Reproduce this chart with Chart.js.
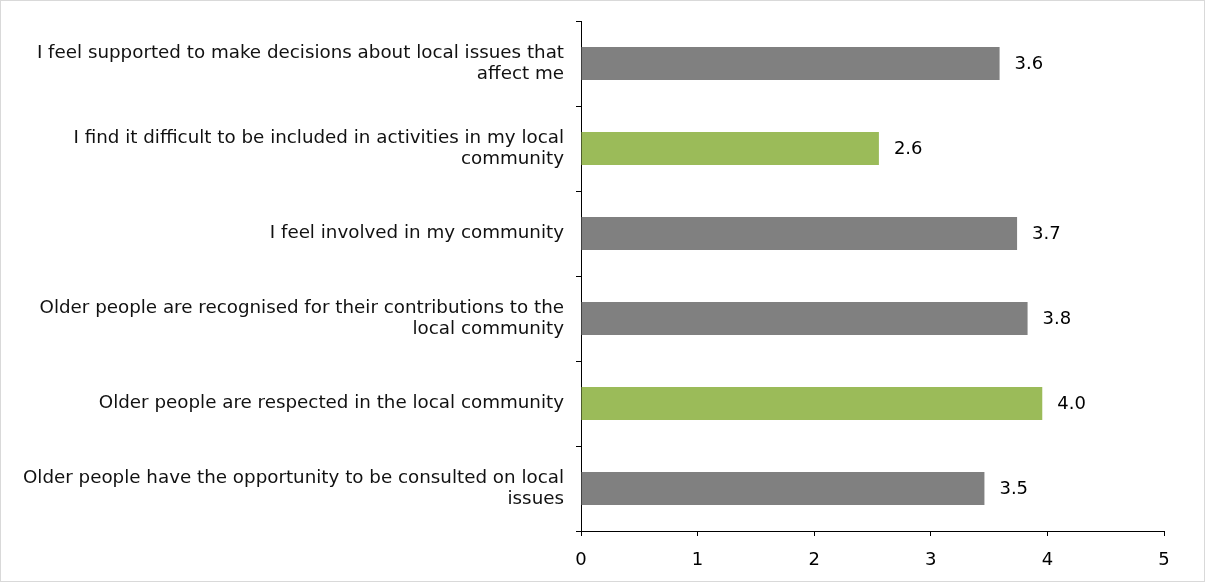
<!DOCTYPE html>
<html lang="en">
  <head>
    <meta charset="UTF-8" />
    <title>Community participation</title>
    <style>
      body {
        margin: 0;
        background: #ffffff;
      }
      #wrap {
        width: 1205px;
        height: 582px;
        box-sizing: border-box;
        border: 1px solid #d9d9d9;
        position: relative;
      }
    </style>
    <script src="https://cdn.jsdelivr.net/npm/chart.js"></script>
  </head>
  <body>
    <div id="wrap">
      <canvas id="chart" width="1203" height="580"></canvas>
    </div>
    <script>
      // data
      const categories = [
        ["I feel supported to make decisions about local issues that", "affect me"],
        ["I find it difficult to be included in activities in my local", "community"],
        "I feel involved in my community",
        ["Older people are recognised for their contributions to the", "local community"],
        "Older people are respected in the local community",
        ["Older people have the opportunity to be consulted on local", "issues"]
      ];
      const scores = [3.59, 2.555, 3.74, 3.83, 3.956, 3.46];
      const scoreLabels = ["3.6", "2.6", "3.7", "3.8", "4.0", "3.5"];
      const barColours = ["#808080", "#9bbb59", "#808080", "#808080", "#9bbb59", "#808080"];
      const xTicks = [0, 1, 2, 3, 4, 5];

      const fontFamily = "'DejaVu Sans', sans-serif";

      // value labels right of each bar
      const valueLabels = {
        id: "valueLabels",
        afterDatasetsDraw(chart) {
          const ctx = chart.ctx;
          const meta = chart.getDatasetMeta(0);
          ctx.save();
          ctx.font = "18px " + fontFamily;
          ctx.fillStyle = "#000000";
          ctx.textAlign = "left";
          ctx.textBaseline = "middle";
          meta.data.forEach((bar, i) => {
            ctx.fillText(scoreLabels[i], bar.x + 15, bar.y + 1);
          });
          ctx.restore();
        }
      };

      const ctx = document.getElementById("chart").getContext("2d");
      new Chart(ctx, {
        type: "bar",
        data: {
          labels: categories,
          datasets: [
            {
              data: scores,
              backgroundColor: barColours,
              borderWidth: 0,
              categoryPercentage: 1,
              barPercentage: 0.39
            }
          ]
        },
        options: {
          indexAxis: "y",
          responsive: false,
          animation: false,
          layout: {
            padding: { top: 20, right: 40, left: 0, bottom: 0 }
          },
          plugins: {
            legend: { display: false },
            tooltip: { enabled: false }
          },
          scales: {
            y: {
              grid: {
                offset: true,
                drawOnChartArea: false,
                tickLength: 5,
                color: "#000000"
              },
              border: { color: "#000000", width: 1 },
              ticks: {
                padding: 12,
                color: "#111111",
                font: { family: fontFamily, size: 18.3, lineHeight: 1.13 }
              },
              afterFit(scale) {
                scale.width = 580;
                scale.paddingTop = 0;
                scale.paddingBottom = 0;
              }
            },
            x: {
              min: 0,
              max: 5,
              afterBuildTicks(scale) {
                scale.ticks = xTicks.map((v) => ({ value: v }));
              },
              grid: {
                drawOnChartArea: false,
                tickLength: 5,
                color: "#000000"
              },
              border: { color: "#000000", width: 1 },
              ticks: {
                padding: 14,
                color: "#000000",
                font: { family: fontFamily, size: 18 }
              },
              afterFit(scale) {
                scale.height = 50;
              }
            }
          }
        },
        plugins: [valueLabels]
      });
    </script>
  </body>
</html>
